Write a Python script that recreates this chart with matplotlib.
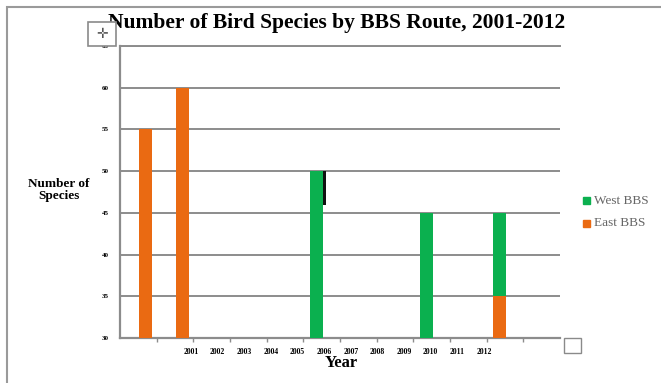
import matplotlib
matplotlib.use("Agg")
import matplotlib.pyplot as plt
from matplotlib.patches import Rectangle

# Data
years = ["2001", "2002", "2003", "2004", "2005", "2006",
         "2007", "2008", "2009", "2010", "2011", "2012"]
y_ticks = [30, 35, 40, 45, 50, 55, 60, 65]
east_slots = [0, 1, 10]
east_values = [55, 60, 35]
west_slots = [5, 8, 10]
west_values = [50, 45, 45]
mark_slot = 5
mark_range = (46, 50)

WEST = "#0bb04f"
EAST = "#ea6a12"
GRID = "#8c8c8c"
SERIF = "Liberation Serif"

fig = plt.figure(figsize=(6.61, 3.83), dpi=100)
W, H = 661, 383

def fx(px):
    return px / W

def fy(py):
    return 1 - py / H

# outer frame
fig.add_artist(Rectangle((fx(7), fy(400)), fx(720), 393 / H, transform=fig.transFigure,
                         fill=False, edgecolor="#9a9a9a", lw=1.5))

ax = fig.add_axes([fx(120), fy(338), fx(560 - 120), (338 - 46) / H])
base = y_ticks[0]

# west bars sit left of the slot centre, east bars right of it
bw = 0.36
for s, v in zip(west_slots, west_values):
    ax.bar(s + 0.5 - 0.32, v - base, bottom=base, width=bw, color=WEST, align="edge", zorder=3)
for s, v in zip(east_slots, east_values):
    off = -0.32 if s in west_slots else 0.02
    ax.bar(s + 0.5 + off, v - base, bottom=base, width=bw, color=EAST, align="edge", zorder=4)
ax.bar(mark_slot + 0.5 + 0.04, mark_range[1] - mark_range[0], bottom=mark_range[0],
       width=0.07, color="#111111", align="edge", zorder=5)

ax.set_xlim(0, 12)
ax.set_ylim(y_ticks[0], y_ticks[-1])
ax.set_yticks(y_ticks)
ax.set_yticklabels([str(t) for t in y_ticks], fontsize=5, family=SERIF, fontweight="bold")
ax.grid(axis="y", color=GRID, lw=1.4, zorder=1)
ax.set_xticks(range(1, 12))
ax.set_xticklabels([])
ax.tick_params(axis="x", length=3, color=GRID, width=1)
ax.tick_params(axis="y", length=0, pad=8)
for side in ("top", "right"):
    ax.spines[side].set_visible(False)
for side in ("left", "bottom"):
    ax.spines[side].set_color(GRID)
    ax.spines[side].set_linewidth(1.6)
ax.axhline(y_ticks[-1], color=GRID, lw=1.4, zorder=1, clip_on=False)

# year labels packed along the axis
x0, step = 1.93, 0.727
for i, yr in enumerate(years):
    ax.text(x0 + i * step, -0.035, yr, transform=ax.get_xaxis_transform(),
            ha="center", va="top", fontsize=5.5, family=SERIF, fontweight="bold")

fig.text(fx(337), fy(23), "Number of Bird Species by BBS Route, 2001-2012",
         ha="center", va="center", fontsize=15.5, family=SERIF, fontweight="bold", zorder=5)
fig.text(fx(341), fy(363), "Year", ha="center", va="center",
         fontsize=12, family=SERIF, fontweight="bold")
fig.text(fx(59), fy(190), "Number of\nSpecies", ha="center", va="center",
         fontsize=9.5, family=SERIF, fontweight="bold", linespacing=1.0)

# legend
for py, lab, col in [(201, "West BBS", WEST), (223, "East BBS", EAST)]:
    fig.add_artist(Rectangle((fx(583), fy(py + 3.5)), fx(7), 7 / H,
                             transform=fig.transFigure, color=col))
    fig.text(fx(594), fy(py), lab, ha="left", va="center", fontsize=9.5,
             family=SERIF, color="#666666")

# small handle boxes
fig.add_artist(Rectangle((fx(88), fy(46)), fx(28), 24 / H, transform=fig.transFigure,
                         fill=True, facecolor="white", edgecolor="#8a8a8a", lw=1.2, zorder=10))
fig.text(fx(102), fy(34), "\u271B", ha="center", va="center", fontsize=10,
         color="#555555", family="DejaVu Sans", zorder=11)
fig.add_artist(Rectangle((fx(564), fy(353)), fx(17), 15 / H, transform=fig.transFigure,
                         fill=False, edgecolor="#8a8a8a", lw=1.0))

fig.savefig("out.png", dpi=100)
